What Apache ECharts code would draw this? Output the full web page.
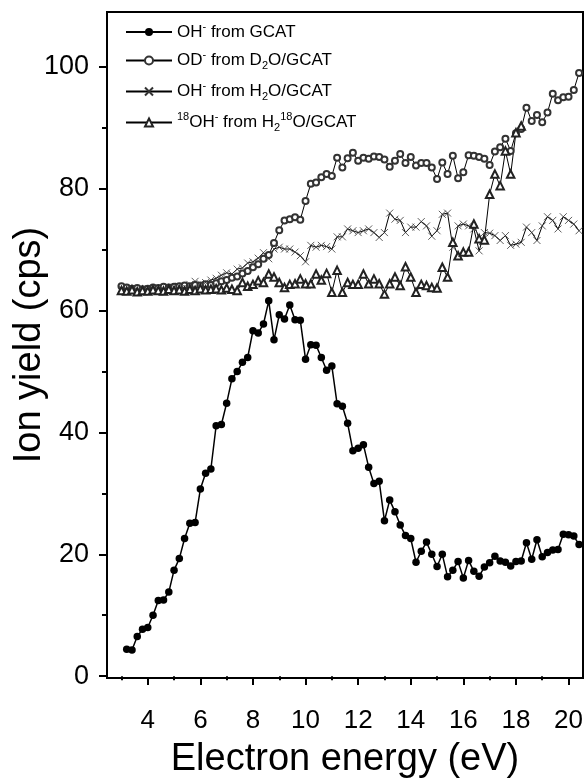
<!DOCTYPE html>
<html lang="en" style="height: 100%">
<head>
    <meta charset="utf-8">
    <title>Ion yield</title>
    <script src="https://cdn.jsdelivr.net/npm/echarts@6/dist/echarts.min.js"></script>
</head>
<body style="height: 100%; margin: 0; background: #fff">
<div id="main" style="width:587px;height:783px"></div>
<script type="text/javascript">
    // energy grid (eV) for the H2O/D2O/H2-18O runs, GCAT run starts at 3.2
    var energy = [3.0, 3.2, 3.4, 3.6, 3.8, 4.0, 4.2, 4.4, 4.6, 4.8,
        5.0, 5.2, 5.4, 5.6, 5.8, 6.0, 6.2, 6.4, 6.6, 6.8,
        7.0, 7.2, 7.4, 7.6, 7.8, 8.0, 8.2, 8.4, 8.6, 8.8,
        9.0, 9.2, 9.4, 9.6, 9.8, 10.0, 10.2, 10.4, 10.6, 10.8,
        11.0, 11.2, 11.4, 11.6, 11.8, 12.0, 12.2, 12.4, 12.6, 12.8,
        13.0, 13.2, 13.4, 13.6, 13.8, 14.0, 14.2, 14.4, 14.6, 14.8,
        15.0, 15.2, 15.4, 15.6, 15.8, 16.0, 16.2, 16.4, 16.6, 16.8,
        17.0, 17.2, 17.4, 17.6, 17.8, 18.0, 18.2, 18.4, 18.6, 18.8,
        19.0, 19.2, 19.4, 19.6, 19.8, 20.0, 20.2, 20.4];

    // OH- from GCAT (from 3.2 eV)
    var ohGcat = [4.4, 4.3, 6.5, 7.7, 8.0, 10.0, 12.4, 12.5, 13.8,
        17.4, 19.3, 22.6, 25.1, 25.2, 30.7, 33.3, 34.0, 41.1, 41.3,
        44.8, 48.8, 50.0, 51.5, 52.3, 56.7, 56.3, 57.8, 61.6, 55.2,
        59.3, 58.6, 60.9, 58.5, 58.4, 52.0, 54.4, 54.3, 52.3, 50.2,
        50.9, 44.7, 44.3, 41.5, 37.0, 37.4, 38.0, 34.3, 31.6, 32.0,
        25.5, 28.9, 27.0, 24.8, 23.1, 22.6, 18.7, 20.5, 22.0, 20.0,
        18.0, 20.0, 16.3, 17.4, 18.8, 16.1, 19.0, 17.2, 16.4, 17.9,
        18.6, 19.7, 18.9, 18.7, 18.1, 18.8, 18.9, 21.9, 19.2, 22.4,
        19.6, 20.3, 20.7, 20.8, 23.3, 23.2, 23.0, 21.6];

    // OD- from D2O/GCAT
    var odD2o = [64.0, 63.8, 63.6, 63.7, 63.5, 63.6, 63.8, 63.7, 63.9, 63.8,
        63.9, 64.0, 64.1, 64.0, 64.2, 64.1, 64.3, 64.2, 64.5, 64.8,
        65.0, 65.4, 65.6, 66.1, 66.5, 67.1, 67.6, 68.5, 69.1, 71.1,
        73.2, 74.8, 75.0, 75.3, 74.9, 78.0, 80.8, 81.0, 81.9, 82.4,
        82.1, 85.1, 83.5, 85.0, 85.9, 84.6, 85.1, 84.9, 85.3, 85.2,
        84.8, 83.6, 84.6, 85.7, 84.2, 85.2, 83.8, 84.2, 84.2, 83.5,
        81.6, 84.3, 82.4, 85.4, 81.7, 82.7, 85.5, 85.4, 85.2, 84.9,
        83.9, 86.1, 86.8, 88.2, 86.2, 89.1, 89.8, 93.3, 91.1, 92.1,
        90.9, 92.5, 95.6, 94.5, 95.0, 95.1, 96.2, 99.0];

    // OH- from H2O/GCAT
    var ohH2o = [63.6, 63.4, 63.5, 63.3, 63.6, 63.4, 63.5, 63.6, 63.5, 63.7,
        63.8, 64.0, 63.9, 64.3, 64.8, 64.4, 64.6, 65.0, 65.3, 65.8,
        66.2, 66.0, 66.8, 67.0, 67.8, 68.0, 68.6, 69.5, 68.5, 70.1,
        70.4, 70.1, 70.1, 69.6, 69.0, 68.0, 70.7, 70.4, 70.7, 70.5,
        70.1, 72.1, 72.1, 73.4, 73.1, 72.8, 73.1, 73.4, 72.8, 72.0,
        72.8, 76.0, 75.0, 74.8, 72.8, 73.7, 73.7, 74.6, 73.9, 72.2,
        73.1, 75.8, 76.0, 70.4, 73.9, 74.2, 73.9, 73.4, 69.8, 72.8,
        72.7, 72.3, 71.5, 72.3, 70.7, 70.9, 71.2, 73.7, 72.8, 71.5,
        73.9, 75.4, 74.8, 73.4, 75.4, 74.8, 74.2, 73.1];

    // 18OH- from H2-18O/GCAT (ends at 18.2 eV)
    var oh18 = [63.3, 63.2, 63.4, 63.1, 63.3, 63.2, 63.4, 63.3, 63.2, 63.5,
        63.3, 63.4, 63.2, 63.5, 63.3, 63.6, 63.4, 63.5, 63.6, 63.4,
        63.7, 63.5, 63.3, 64.6, 64.0, 64.3, 64.9, 64.6, 66.0, 65.5,
        64.6, 63.8, 64.3, 64.4, 65.2, 64.4, 64.4, 66.0, 65.0, 66.1,
        63.0, 66.6, 63.0, 64.6, 64.3, 64.3, 66.0, 64.4, 65.2, 64.4,
        62.7, 64.4, 65.5, 64.1, 67.2, 65.5, 63.0, 64.3, 64.1, 63.8,
        63.7, 67.1, 65.5, 71.2, 69.0, 69.6, 69.6, 74.2, 71.8, 71.6,
        79.1, 82.4, 80.5, 86.2, 82.4, 89.2, 90.3];

    var xMajor = [4, 6, 8, 10, 12, 14, 16, 18, 20];
    var xMinor = [3, 5, 7, 9, 11, 13, 15, 17, 19];
    var yMajor = [0, 20, 40, 60, 80, 100];
    var yMinor = [10, 30, 50, 70, 90];

    var names = ['OH⁻ from GCAT', 'OD⁻ from D₂O/GCAT', 'OH⁻ from H₂O/GCAT', '¹⁸OH⁻ from H₂¹⁸O/GCAT'];
    var legendRich = {};
    legendRich[names[0]] = '{n|OH}{sup|-}{n| from GCAT}';
    legendRich[names[1]] = '{n|OD}{sup|-}{n| from D}{sub|2}{n|O/GCAT}';
    legendRich[names[2]] = '{n|OH}{sup|-}{n| from H}{sub|2}{n|O/GCAT}';
    legendRich[names[3]] = '{sup|18}{n|OH}{sup|-}{n| from H}{sub|2}{sup|18}{n|O/GCAT}';

    function pairs(xs, ys, offset) {
        var out = [];
        for (var i = 0; i < ys.length; i++) {
            out.push([xs[i + offset], ys[i]]);
        }
        return out;
    }

    var font = 'Liberation Sans, Arial, sans-serif';
    var crossPath = 'path://M0,0L10,10M10,0L0,10';

    var chart = echarts.init(document.getElementById('main'), null, {renderer: 'canvas'});
    var option = {
        animation: false,
        backgroundColor: '#fff',
        textStyle: {fontFamily: font, color: '#000'},
        grid: {
            left: 107, right: 4, top: 12, bottom: 105,
            show: true, borderColor: '#000', borderWidth: 2,
            containLabel: false,
            outerBoundsMode: 'none'
        },
        legend: {
            orient: 'vertical',
            left: 120, top: 16,
            itemWidth: 46, itemHeight: 10, itemGap: 9,
            data: names,
            formatter: function (name) {
                return legendRich[name];
            },
            textStyle: {
                rich: {
                    n: {fontSize: 17, fontFamily: font, color: '#000', lineHeight: 22},
                    sup: {fontSize: 11, fontFamily: font, color: '#000', verticalAlign: 'top', lineHeight: 22, padding: [0, 0, 8, 0]},
                    sub: {fontSize: 11, fontFamily: font, color: '#000', verticalAlign: 'bottom', lineHeight: 22, padding: [8, 0, 0, 0]}
                }
            }
        },
        xAxis: [
            {
                type: 'value', min: 2.45, max: 20.55, position: 'bottom',
                name: 'Electron energy (eV)', nameLocation: 'middle', nameGap: 63,
                nameMoveOverlap: false,
                nameTextStyle: {fontSize: 38, color: '#000', fontFamily: font},
                axisLine: {onZero: false, lineStyle: {color: '#000', width: 2}},
                axisTick: {customValues: xMajor, length: 7, lineStyle: {width: 2, color: '#000'}},
                axisLabel: {customValues: xMajor, fontSize: 26, color: '#000', margin: 30, fontFamily: font},
                splitLine: {show: false}
            },
            {
                type: 'value', min: 2.45, max: 20.55, position: 'bottom',
                axisLine: {show: false},
                axisTick: {customValues: xMinor, length: 4, lineStyle: {width: 2, color: '#000'}},
                axisLabel: {show: false},
                splitLine: {show: false}
            }
        ],
        yAxis: [
            {
                type: 'value', min: -0.3, max: 109, position: 'left',
                name: 'Ion yield (cps)', nameLocation: 'middle', nameGap: 58,
                nameMoveOverlap: false,
                nameTextStyle: {fontSize: 38, color: '#000', fontFamily: font},
                axisLine: {onZero: false, lineStyle: {color: '#000', width: 2}},
                axisTick: {customValues: yMajor, length: 8, lineStyle: {width: 2, color: '#000'}},
                axisLabel: {customValues: yMajor, fontSize: 27, color: '#000', margin: 18, fontFamily: font},
                splitLine: {show: false}
            },
            {
                type: 'value', min: -0.3, max: 109, position: 'left',
                axisLine: {show: false},
                axisTick: {customValues: yMinor, length: 5, lineStyle: {width: 2, color: '#000'}},
                axisLabel: {show: false},
                splitLine: {show: false}
            }
        ],
        series: [
            {
                name: names[0], type: 'line', data: pairs(energy, ohGcat, 1),
                symbol: 'circle', symbolSize: 7.5,
                itemStyle: {color: '#000'},
                lineStyle: {color: '#000', width: 1.5},
                z: 5
            },
            {
                name: names[1], type: 'line', data: pairs(energy, odD2o, 0),
                symbol: 'emptyCircle', symbolSize: 6,
                itemStyle: {color: '#333', borderWidth: 0.8},
                lineStyle: {color: '#000', width: 1}
            },
            {
                name: names[2], type: 'line', data: pairs(energy, ohH2o, 0),
                symbol: crossPath, symbolSize: 7,
                itemStyle: {color: '#fff', borderColor: '#333', borderWidth: 0.8},
                lineStyle: {color: '#000', width: 1}
            },
            {
                name: names[3], type: 'line', data: pairs(energy, oh18, 0),
                symbol: 'emptyTriangle', symbolSize: 7.5,
                itemStyle: {color: '#222', borderWidth: 0.9},
                lineStyle: {color: '#000', width: 1}
            }
        ]
    };
    chart.setOption(option);
</script>
</body>
</html>
